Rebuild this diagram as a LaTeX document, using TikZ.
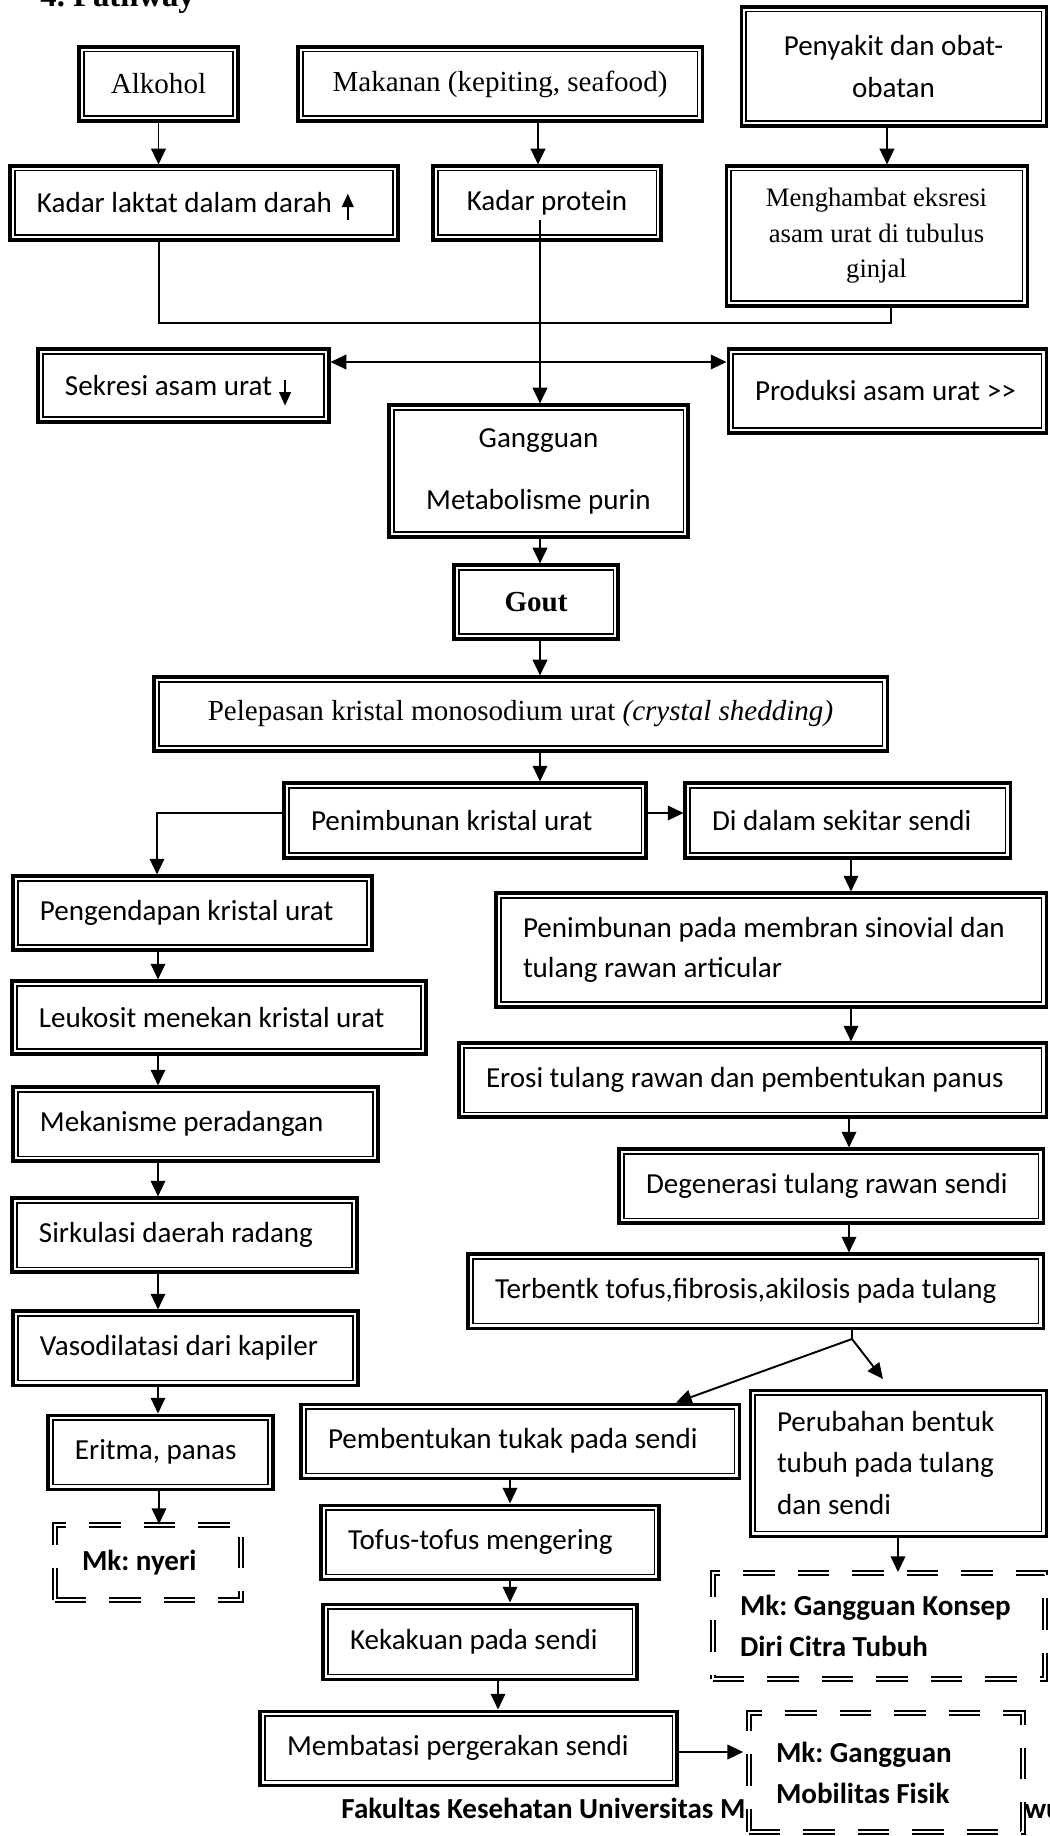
\documentclass[tikz,border=0pt]{standalone}
\usepackage{fontspec}
\setmainfont{Liberation Serif}
\newfontfamily\carl{Carlito}
\usetikzlibrary{arrows.meta}
\frenchspacing
\newcommand\bx[7][]{%
  \pgfmathsetmacro\bw{(#5-#3)*0.413}%
  \pgfmathsetmacro\bh{(#6-#4)*0.413}%
  \pgfmathsetmacro\tw{\bw-22.3}%
  \node[#1,minimum width=\bw pt,minimum height=\bh pt] (#2) at ({(#3+#5)/2},{(#4+#6)/2}) {#7};}
\newcommand\uparr{\smash{\tikz[baseline=0pt]\draw[line width=0.85pt,-{Triangle[width=4.8pt,length=5.6pt]}] (0pt,-3pt) -- (0pt,8pt);}}
\newcommand\dnarr{\smash{\tikz[baseline=0pt]\draw[line width=0.85pt,-{Triangle[width=4.8pt,length=5.6pt]}] (0pt,6.5pt) -- (0pt,-4.2pt);}}
\tikzset{
  bbase/.style={draw, line width=1.25pt, fill=white, inner sep=0pt,
    path picture={\draw[line width=0.75pt]
      ([shift={(1.9pt,-1.9pt)}]path picture bounding box.north west) rectangle
      ([shift={(-1.9pt,1.9pt)}]path picture bounding box.south east);}},
  cbox/.style={bbase, align=center},
  lbox/.style={bbase, align=flush left, text width=\tw pt},
  dbox/.style={draw, double, double distance=0.9pt, line width=0.8pt,
    dash pattern=on 13pt off 9.5pt, fill=white, inner sep=0pt, align=flush left,
    text width=\tw pt, font=\carl\bfseries\fontsize{12}{17}\selectfont},
  serif/.style={font=\rmfamily\fontsize{12}{14.4}\selectfont},
  arr/.style={line width=0.8pt, -{Triangle[width=6pt,length=6.5pt]}},
  darr/.style={line width=0.8pt, {Triangle[width=6pt,length=6.5pt]}-{Triangle[width=6pt,length=6.5pt]}},
  ln/.style={line width=0.55pt},
}
\begin{document}
\begin{tikzpicture}[x=0.413pt,y=-0.413pt,font=\carl\fontsize{12}{14.4}\selectfont]
\useasboundingbox (0,0) rectangle (1049,1836);
\fill[white] (0,0) rectangle (1049,1836);

\node[anchor=base west, inner sep=0pt, font=\rmfamily\bfseries\fontsize{13.5}{16}\selectfont] (title) at (40,7) {4. Pathway};

% footer
\node[anchor=base west, inner sep=0pt, font=\carl\bfseries\fontsize{12}{14.4}\selectfont] (foot) at (341,1818) {Fakultas Kesehatan Universitas M};
\node[anchor=base west, inner sep=0pt, font=\carl\bfseries\fontsize{12}{14.4}\selectfont] (foot2) at (1024,1818) {wu};

% top row
\bx[cbox,serif]{alk}{79}{47}{238}{121}{Alkohol}
\bx[cbox,serif]{mak}{298}{47}{702}{121}{Makanan (kepiting, seafood)}
\bx[cbox,font=\carl\fontsize{12}{17.3}\selectfont]{pen}{741}{7}{1046}{126}{Penyakit dan obat-\\obatan}
\bx[lbox]{kl}{10}{166}{398}{240}{\mbox{Kadar laktat dalam darah\hspace{0.35em}\uparr}}
\bx[cbox]{kp}{433}{166}{661}{240}{Kadar protein}
\bx[cbox,font=\rmfamily\fontsize{11}{14.7}\selectfont]{meng}{726}{166}{1027}{306}{Menghambat eksresi\\asam urat di tubulus\\ginjal}
\bx[lbox]{sek}{38}{349}{329}{422}{\mbox{Sekresi asam urat\hspace{0.25em}\dnarr}}
\bx[lbox]{prod}{728}{349}{1046}{433}{\mbox{Produksi asam urat >>}}
\bx[cbox,font=\carl\fontsize{12}{25.6}\selectfont]{gang}{389}{405}{688}{537}{Gangguan\\Metabolisme purin}
\bx[cbox,font=\rmfamily\bfseries\fontsize{12}{14.4}\selectfont]{gout}{454}{565}{618}{639}{Gout}
\bx[cbox,serif]{pel}{154}{677}{887}{751}{Pelepasan kristal monosodium urat \textit{(crystal shedding)}}
\bx[lbox]{pk}{284}{783}{646}{858}{\mbox{Penimbunan kristal urat}}
\bx[lbox]{dd}{685}{783}{1010}{858}{\mbox{Di dalam sekitar sendi}}

% left column
\bx[lbox]{peng}{13}{876}{372}{950}{\mbox{Pengendapan kristal urat}}
\bx[lbox]{leuk}{12}{981}{426}{1054}{\mbox{Leukosit menekan kristal urat}}
\bx[lbox]{mek}{13}{1087}{378}{1161}{\mbox{Mekanisme peradangan}}
\bx[lbox]{sirk}{12}{1198}{357}{1272}{\mbox{Sirkulasi daerah radang}}
\bx[lbox]{vaso}{13}{1311}{358}{1385}{\mbox{Vasodilatasi dari kapiler}}
\bx[lbox]{erit}{48}{1415}{273}{1489}{\mbox{Eritma, panas}}
\bx[dbox]{nyeri}{55}{1525}{241}{1600}{\mbox{Mk: nyeri}}

% right column
\bx[lbox,font=\carl\fontsize{12}{16.5}\selectfont]{memb}{496}{893}{1046}{1007}{\mbox{Penimbunan pada membran sinovial dan}\\\mbox{tulang rawan articular}}
\bx[lbox]{eros}{459}{1043}{1046}{1117}{\mbox{Erosi tulang rawan dan pembentukan panus}}
\bx[lbox]{deg}{619}{1149}{1043}{1223}{\mbox{Degenerasi tulang rawan sendi}}
\bx[lbox]{terb}{468}{1254}{1043}{1328}{\mbox{Terbentk tofus,fibrosis,akilosis pada tulang}}
\bx[lbox]{pemb}{301}{1404}{739}{1478}{\mbox{Pembentukan tukak pada sendi}}
\bx[lbox,font=\carl\fontsize{12}{17}\selectfont]{perub}{750}{1390}{1046}{1536}{\mbox{Perubahan bentuk}\\\mbox{tubuh pada tulang}\\\mbox{dan sendi}}
\bx[lbox]{tofus}{321}{1505}{659}{1579}{\mbox{Tofus-tofus mengering}}
\bx[lbox]{kek}{323}{1604}{637}{1679}{\mbox{Kekakuan pada sendi}}
\bx[lbox]{mbts}{260}{1711}{677}{1785}{\mbox{Membatasi pergerakan sendi}}
\bx[dbox]{konsep}{713}{1573}{1045}{1679}{\mbox{Mk: Gangguan Konsep}\\\mbox{Diri Citra Tubuh}}
\bx[dbox]{mob}{749}{1713}{1023}{1832}{\mbox{Mk: Gangguan}\\\mbox{Mobilitas Fisik}}

% connectors top
\draw[arr] (alk.south) -- (alk.south |- kl.north);
\draw[arr] (538,0 |- mak.south) -- (538,0 |- kp.north);
\draw[arr] (887,0 |- pen.south) -- (887,0 |- meng.north);
\draw[ln] (159,0 |- kl.south) -- (159,323) -- (891,323) -- (891,0 |- meng.south);
\coordinate (kpin) at (540,220);
\draw[arr] (kpin) -- (540,0 |- gang.north);
\draw[darr] (sek.east |- 0,362) -- (prod.west |- 0,362);
\draw[arr] (540,0 |- gang.south) -- (540,0 |- gout.north);
\draw[arr] (540,0 |- gout.south) -- (540,0 |- pel.north);
\draw[arr] (540,0 |- pel.south) -- (540,0 |- pk.north);
\draw[arr] (pk.east |- 0,813) -- (dd.west |- 0,813);
\draw[arr] (pk.west |- 0,813) -- (157,813) -- (157,0 |- peng.north);

% left column connectors
\draw[arr] (158,0 |- peng.south) -- (158,0 |- leuk.north);
\draw[arr] (158,0 |- leuk.south) -- (158,0 |- mek.north);
\draw[arr] (158,0 |- mek.south) -- (158,0 |- sirk.north);
\draw[arr] (158,0 |- sirk.south) -- (158,0 |- vaso.north);
\draw[arr] (158,0 |- vaso.south) -- (158,0 |- erit.north);
\draw[arr] (159,0 |- erit.south) -- (159,0 |- nyeri.north);

% right column connectors
\draw[arr] (851,0 |- dd.south) -- (851,0 |- memb.north);
\draw[arr] (851,0 |- memb.south) -- (851,0 |- eros.north);
\draw[arr] (849,0 |- eros.south) -- (849,0 |- deg.north);
\draw[arr] (849,0 |- deg.south) -- (849,0 |- terb.north);
\coordinate (sp) at (852,1339);
\coordinate (fr) at (883,1379);
\draw[ln] (852,0 |- terb.south) -- (sp);
\draw[arr] (sp) -- (676,0 |- pemb.north);
\draw[arr] (sp) -- (fr);
\draw[arr] (510,0 |- pemb.south) -- (510,0 |- tofus.north);
\draw[arr] (510,0 |- tofus.south) -- (510,0 |- kek.north);
\draw[arr] (498,0 |- kek.south) -- (498,0 |- mbts.north);
\draw[arr] (898,0 |- perub.south) -- (898,0 |- konsep.north);
\draw[arr, shorten >=2pt] (mbts.east |- 0,1752) -- (mob.west |- 0,1752);
\end{tikzpicture}
\end{document}
